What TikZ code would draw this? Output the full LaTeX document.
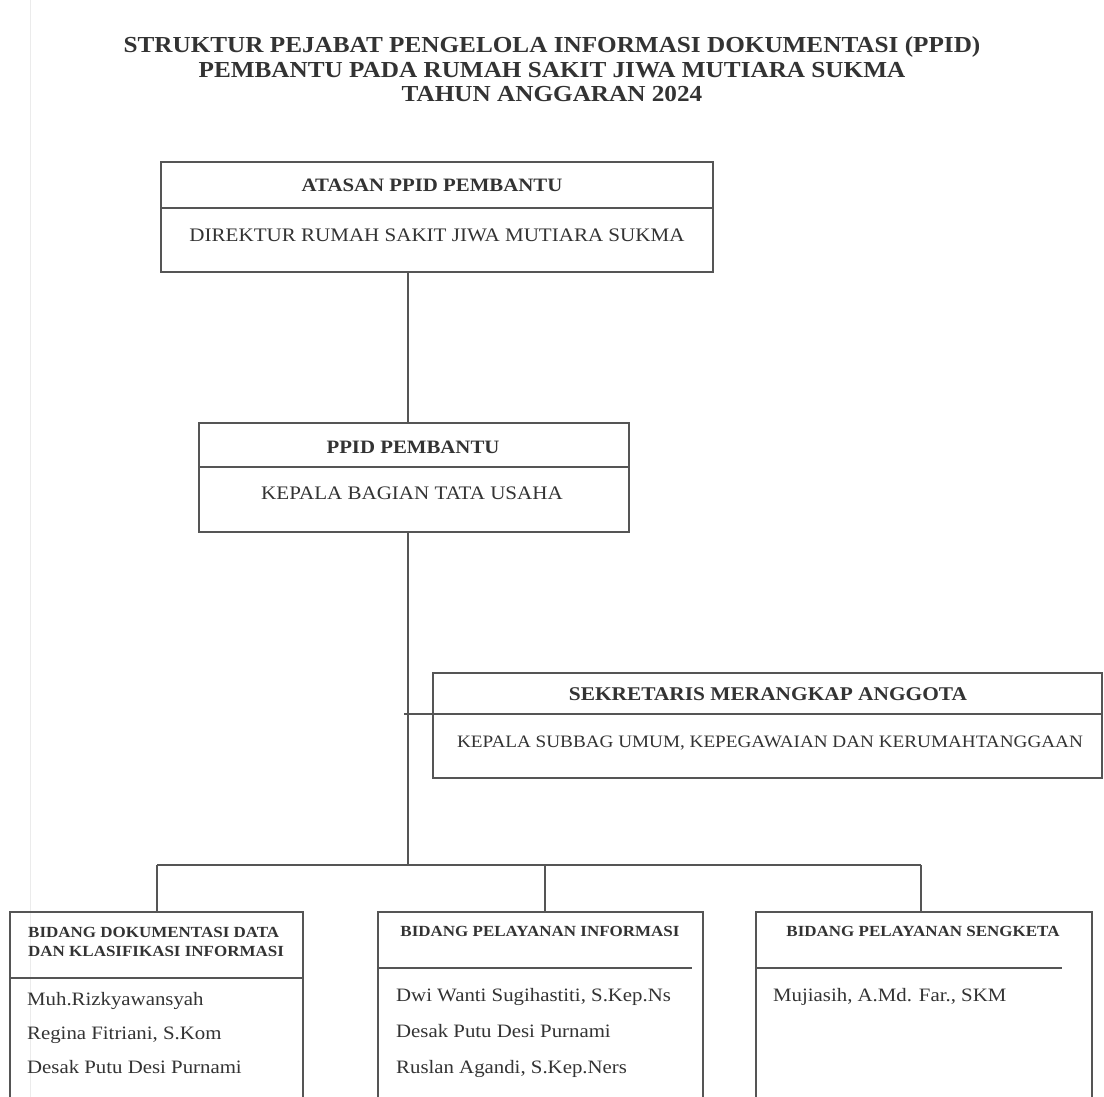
\documentclass[tikz,border=0pt]{standalone}
\usepackage{fontspec}
\setmainfont{Liberation Serif}[FakeStretch=1.1]
\definecolor{linegray}{HTML}{555555}
\definecolor{textgray}{HTML}{333333}
\begin{document}
\begin{tikzpicture}[x=1bp,y=-1bp,
  line/.style={draw=linegray,line width=1.6bp},
  box/.style={line,rectangle,anchor=north west,inner sep=0pt},
  lbl/.style={text=textgray,inner sep=0pt,anchor=base},
  lbll/.style={text=textgray,inner sep=0pt,anchor=base west},
  fTitle/.style={font=\fontsize{23}{25}\selectfont\bfseries},
  fHead/.style={font=\fontsize{19}{21}\selectfont\bfseries},
  fBody/.style={font=\fontsize{19.2}{21}\selectfont},
  fSmall/.style={font=\fontsize{15.5}{19}\selectfont\bfseries},
  fName/.style={font=\fontsize{19}{21}\selectfont}]
\useasboundingbox (0,0) rectangle (1104,1097);
\fill[white] (0,0) rectangle (1104,1097);
\begin{scope}
\clip (0,0) rectangle (1104,1097);
% faint scan line
\draw[black!8,line width=1bp] (30,0) -- (30,1097);
% title
\node[lbl,fTitle] (t1) at (552,52) {STRUKTUR PEJABAT PENGELOLA INFORMASI DOKUMENTASI (PPID)};
\node[lbl,fTitle] (t2) at (552,77) {PEMBANTU PADA RUMAH SAKIT JIWA MUTIARA SUKMA};
\node[lbl,fTitle] (t3) at (552,101) {TAHUN ANGGARAN 2024};
% box 1
\node[box,minimum width=552bp,minimum height=110bp] (atasan) at (160,161) {};
\draw[line] (atasan.west |- 0,208) -- (atasan.east |- 0,208);
\node[lbl,fHead] (atasanH) at (432,191) {ATASAN PPID PEMBANTU};
\node[lbl,fBody] (atasanB) at (437,241) {DIREKTUR RUMAH SAKIT JIWA MUTIARA SUKMA};
% box 2
\node[box,minimum width=430bp,minimum height=109bp] (ppid) at (198,422) {};
\draw[line] (ppid.west |- 0,467) -- (ppid.east |- 0,467);
\node[lbl,fHead] (ppidH) at (413,453) {PPID PEMBANTU};
\node[lbl,fBody] (ppidB) at (412,499) {KEPALA BAGIAN TATA USAHA};
% box 3
\node[box,minimum width=669bp,minimum height=105bp] (sek) at (432,672) {};
\draw[line] (sek.west |- 0,714) -- (sek.east |- 0,714);
\node[lbl,font=\fontsize{19.5}{21}\selectfont\bfseries] (sekH) at (768,700) {SEKRETARIS MERANGKAP ANGGOTA};
\node[lbl,font=\fontsize{17.5}{20}\selectfont] (sekB) at (770,747) {KEPALA SUBBAG UMUM, KEPEGAWAIAN DAN KERUMAHTANGGAAN};
% box 4
\node[box,minimum width=293bp,minimum height=260bp] (bid1) at (9,911) {};
\draw[line] (bid1.west |- 0,978) -- (bid1.east |- 0,978);
\node[lbll,fSmall] (bid1H1) at (28,937) {BIDANG DOKUMENTASI DATA};
\node[lbll,fSmall] (bid1H2) at (28,956) {DAN KLASIFIKASI INFORMASI};
\node[lbll,fName] (n11) at (27,1005) {Muh.Rizkyawansyah};
\node[lbll,fName] (n12) at (27,1039) {Regina Fitriani, S.Kom};
\node[lbll,fName] (n13) at (27,1073) {Desak Putu Desi Purnami};
% box 5
\node[box,minimum width=325bp,minimum height=260bp] (bid2) at (377,911) {};
\draw[line] (bid2.west |- 0,968) -- (692,968);
\node[lbl,fSmall] (bid2H) at (540,936) {BIDANG PELAYANAN INFORMASI};
\node[lbll,fName] (n21) at (396,1001) {Dwi Wanti Sugihastiti, S.Kep.Ns};
\node[lbll,fName] (n22) at (396,1037) {Desak Putu Desi Purnami};
\node[lbll,fName] (n23) at (396,1073) {Ruslan Agandi, S.Kep.Ners};
% box 6
\node[box,minimum width=336bp,minimum height=260bp] (bid3) at (755,911) {};
\draw[line] (bid3.west |- 0,968) -- (1062,968);
\node[lbl,fSmall] (bid3H) at (923,936) {BIDANG PELAYANAN SENGKETA};
\node[lbll,fName] (n31) at (773,1001) {Mujiasih, A.Md. Far., SKM};
% connectors
\coordinate (spine) at (408,0);
\coordinate (bus) at (408,865);
\coordinate (busL) at (157,865);
\coordinate (busM) at (545,865);
\coordinate (busR) at (921,865);
\coordinate (sekjoin) at (404,714);
\draw[line] (atasan.south -| spine) -- (ppid.north -| spine);
\draw[line] (ppid.south -| spine) -- (bus);
\draw[line] (sekjoin) -- (sek.west |- sekjoin);
\draw[line] (busL) -- (busR);
\draw[line] (busL) -- (bid1.north -| busL);
\draw[line] (busM) -- (bid2.north -| busM);
\draw[line] (busR) -- (bid3.north -| busR);
\end{scope}
\end{tikzpicture}
\end{document}
